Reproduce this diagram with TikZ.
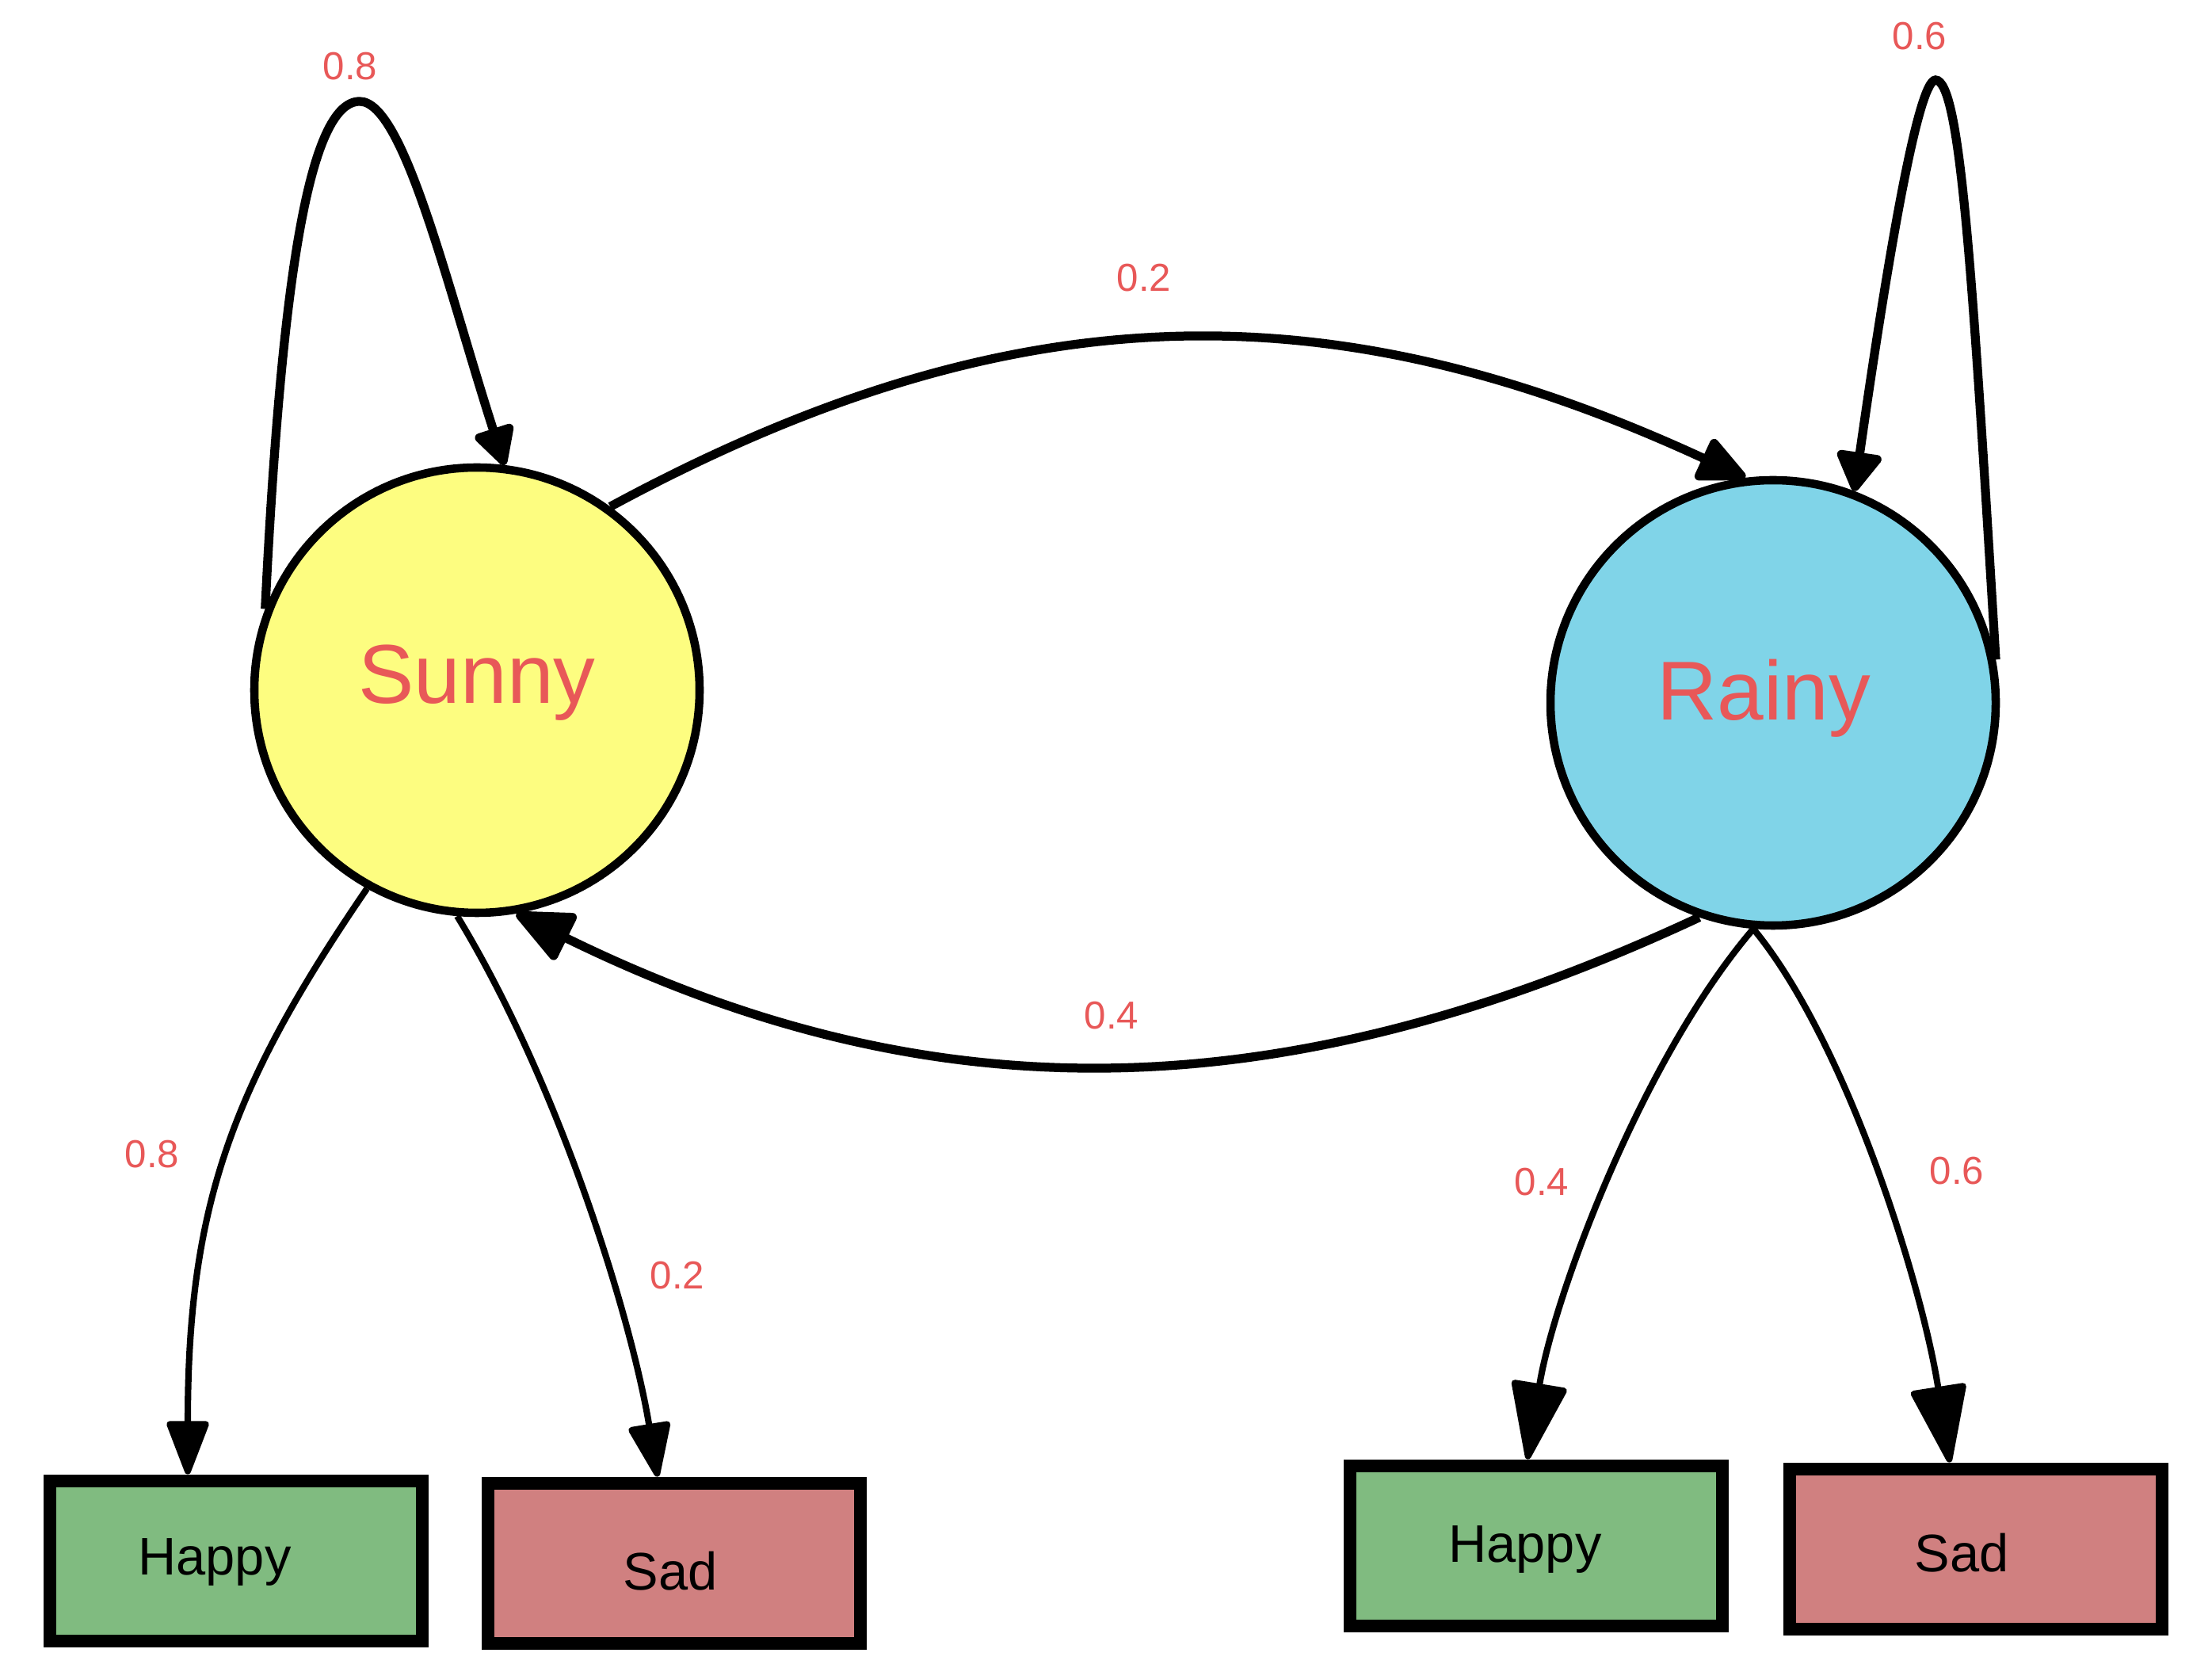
\documentclass[tikz,border=0pt]{standalone}
\usepackage{fontspec}
\setmainfont{Liberation Sans}
\usetikzlibrary{positioning}
\usetikzlibrary{arrows.meta,shapes}
\usetikzlibrary{calc}
\definecolor{probred}{RGB}{232,88,88}
\definecolor{sunnyfill}{RGB}{253,253,128}
\definecolor{rainyfill}{RGB}{128,212,232}
\definecolor{happyfill}{RGB}{128,187,128}
\definecolor{sadfill}{RGB}{208,128,128}
\tikzstyle{state}=[circle,draw=black,line width=3pt,minimum size=5.62cm,inner sep=0pt,text=probred,font=\fontsize{30}{36}\selectfont]
\tikzstyle{obs}=[rectangle,draw=black,line width=4.8pt,minimum width=4.7cm,minimum height=2.02cm,inner sep=0pt,font=\fontsize{19}{23}\selectfont]
\tikzstyle{prob}=[text=probred,font=\fontsize{14}{16}\selectfont]
\tikzstyle{trans}=[line width=3.2pt]
\tikzstyle{emit}=[line width=2.3pt]
\newcommand{\shifted}[3]{\raisebox{#2cm}[0pt][0pt]{\makebox[0pt]{\hspace*{#1cm}#3\hspace*{-#1cm}}}}

\begin{document}
\begin{tikzpicture}
\useasboundingbox[fill=white] (0,0) rectangle (27.92,21.04);

%States
    \foreach \pos/\name/\label/\col/\tx/\ty in {{(6.02,12.33)/sunny/Sunny/sunnyfill/0/-0.17}, {(22.38,12.17)/rainy/Rainy/rainyfill/-0.12/-0.22}}
        \node[state, fill=\col] (\name) at \pos {\shifted{\tx}{\ty}{\label}};

%Observations
    \foreach \pos/\name/\label/\col/\tx/\ty in {{(2.98,1.34)/happyS/Happy/happyfill/-0.27/-0.17}, {(8.51,1.31)/sadS/Sad/sadfill/-0.05/-0.335}, {(19.39,1.53)/happyR/Happy/happyfill/-0.14/-0.2}, {(24.94,1.49)/sadR/Sad/sadfill/-0.18/-0.28}}
        \node[obs, fill=\col] (\name) at \pos {\shifted{\tx}{\ty}{\label}};

%Transitions
  \draw[trans, -{Triangle[round,length=0.55cm,width=0.55cm]}] (sunny.159) .. controls (3.55,17.5) and (3.9,19.76) .. (4.54,19.76) .. controls (5.1,19.76) and (5.65,17.4) .. (sunny.83);
  \draw[trans, -{Triangle[round,length=0.55cm,width=0.62cm]}] (rainy.11) .. controls (24.9,17.5) and (24.75,20.03) .. (24.43,20.03) .. controls (24.2,20.03) and (23.8,17.6) .. (rainy.69);
  \draw[trans, -{Triangle[round,length=0.68cm,width=0.6cm]}] (sunny.54) .. controls (12.83,17.42) and (16.86,17.40) .. (rainy.97);
  \draw[trans, -{Triangle[round,length=0.8cm,width=0.68cm]}] (rainy.251) .. controls (16.17,7.00) and (11.75,6.94) .. (sunny.280);

%Emissions
  \draw[emit, -{Triangle[round,length=0.75cm,width=0.55cm]}] (sunny.241) .. controls (2.91,7.31) and (2.37,5.80) .. ([xshift=-0.61cm]happyS.north);
  \draw[emit, -{Triangle[round,length=0.75cm,width=0.55cm]}] (sunny.265) .. controls (7.05,7.38) and (7.97,4.41) .. ([xshift=-0.21cm]sadS.north);
  \draw[emit, -{Triangle[round,length=1.05cm,width=0.72cm]}] (rainy.265) .. controls (20.72,7.67) and (19.61,4.67) .. ([xshift=-0.11cm]happyR.north);
  \draw[emit, -{Triangle[round,length=1.05cm,width=0.72cm]}] (rainy.265) .. controls (23.31,7.89) and (24.26,4.83) .. ([xshift=-0.33cm]sadR.north);

%Probabilities
    \foreach \pos/\name/\p in {{(4.42,20.20)/pSS/0.8}, {(24.23,20.58)/pRR/0.6}, {(14.44,17.53)/pSR/0.2}, {(14.03,8.22)/pRS/0.4}, {(1.92,6.47)/pSH/0.8}, {(8.55,4.94)/pSD/0.2}, {(19.46,6.12)/pRH/0.4}, {(24.70,6.26)/pRD/0.6}}
        \node[prob] (\name) at \pos {\p};

\end{tikzpicture}
\end{document}
